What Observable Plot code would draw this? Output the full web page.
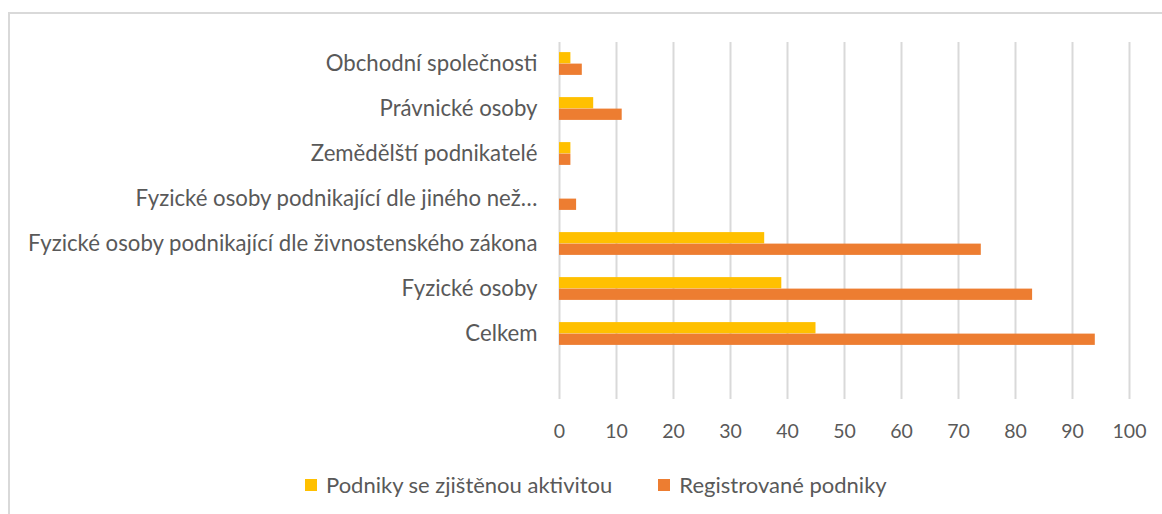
<!DOCTYPE html>
<html>
<head>
<meta charset="utf-8">
<script src="https://cdn.jsdelivr.net/npm/d3@7"></script>
<script src="https://cdn.jsdelivr.net/npm/@observablehq/plot@0.6"></script>
<style>
  html, body { margin: 0; padding: 0; background: #fff; overflow: hidden; width: 1162px; height: 514px; }
  #frame { position: absolute; left: 8px; top: 12px; width: 1300px; height: 600px;
           border-left: 2px solid #d9d9d9; border-top: 2px solid #d9d9d9; box-sizing: border-box; }
  #chart { position: absolute; left: 0; top: 0; }
  #legend { position: absolute; left: 305px; top: 472px; display: flex; align-items: center;
            font-family: Lato, "Open Sans", sans-serif; font-size: 22px; line-height: 26px; color: #595959; white-space: nowrap; }
  .item { display: flex; align-items: center; margin-right: 46px; }
  .sw { width: 12px; height: 12px; margin-right: 9px; }
</style>
</head>
<body>
<div id="frame"></div>
<div id="chart"></div>
<div id="legend"></div>
<script>
const categories = [
  "Obchodní společnosti",
  "Právnické osoby",
  "Zemědělští podnikatelé",
  "Fyzické osoby podnikající dle jiného než…",
  "Fyzické osoby podnikající dle živnostenského zákona",
  "Fyzické osoby",
  "Celkem"
];
const seriesNames = ["Podniky se zjištěnou aktivitou", "Registrované podniky"];
const seriesColors = ["#FFC000", "#ED7D31"];
const activeValues = [2, 6, 2, 0, 36, 39, 45];
const registeredValues = [4, 11, 2, 3, 74, 83, 94];
const xTicks = [0, 10, 20, 30, 40, 50, 60, 70, 80, 90, 100];

const active = categories.map((c, i) => ({category: c, value: activeValues[i], series: seriesNames[0]}));
const registered = categories.map((c, i) => ({category: c, value: registeredValues[i], series: seriesNames[1]}));

const step = 45.2;
const bandTop = 40.4;
const half = step / 2;
const barH = 11.5;

const chart = Plot.plot({
  width: 1162,
  height: 460,
  marginLeft: 559,
  marginRight: 33,
  marginTop: 42,
  marginBottom: 61,
  style: {fontFamily: "Lato, 'Open Sans', sans-serif", fontSize: "19px", color: "#595959", background: "transparent"},
  x: {domain: [0, 100], ticks: xTicks, tickSize: 0, tickPadding: 25, label: null},
  y: {domain: categories, range: [bandTop, bandTop + categories.length * step], padding: 0, tickSize: 0, tickPadding: 22, label: null},
  color: {domain: seriesNames, range: seriesColors},
  marks: [
    Plot.gridX(xTicks, {stroke: "#d9d9d9", strokeOpacity: 1, strokeWidth: 2}),
    Plot.barX(active, {x: "value", y: "category", fill: "series", insetTop: half - barH, insetBottom: half}),
    Plot.barX(registered, {x: "value", y: "category", fill: "series", insetTop: half, insetBottom: half - barH}),
    Plot.axisX({ticks: xTicks, tickSize: 0, tickPadding: 25, fontSize: 19.5, fill: "#595959"}),
    Plot.axisY({tickSize: 0, tickPadding: 22, fontSize: 22.2, fill: "#595959"})
  ]
});
document.getElementById("chart").appendChild(chart);

const legend = document.getElementById("legend");
seriesNames.forEach((name, i) => {
  const item = document.createElement("div");
  item.className = "item";
  const sw = document.createElement("div");
  sw.className = "sw";
  sw.style.background = seriesColors[i];
  const label = document.createElement("span");
  label.textContent = name;
  item.appendChild(sw);
  item.appendChild(label);
  legend.appendChild(item);
});
</script>
</body>
</html>
